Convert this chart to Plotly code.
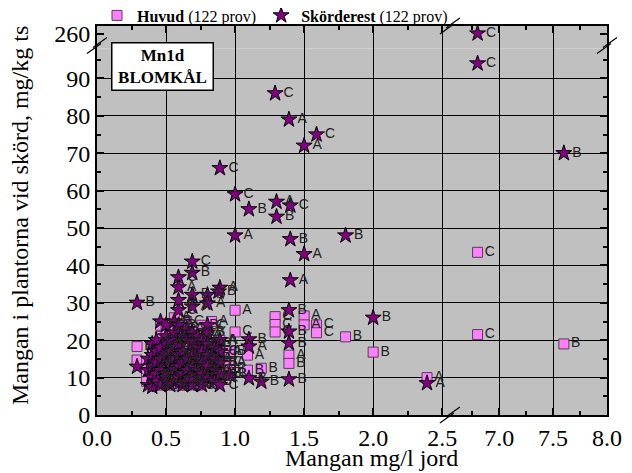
import plotly.graph_objects as go

# Skörderest - separate points
rest_x = [1.29, 1.39, 1.59, 1.50, 0.89, 1.00, 1.30, 1.40, 1.10, 1.30, 1.00, 1.40, 1.80, 1.50,
          0.69, 0.69, 1.40, 0.59, 0.59, 0.89, 0.88, 0.69, 0.80, 0.29, 0.80, 1.39, 2.00, 1.39,
          1.39, 1.39, 1.19, 1.10, 1.10, 1.10, 0.96, 0.29, 2.39, 6.80, 6.80, 7.60]
rest_y = [86, 79, 75, 72, 66, 59, 57, 56, 55, 53, 48, 47, 48, 43,
          41, 38, 36, 36.8, 34.1, 34, 33, 32.1, 32.1, 30, 29.8, 28, 26, 22.3,
          19.2, 9.5, 8.9, 9.8, 20.2, 18.3, 10.7, 12.9, 8.5, 260, 94, 70]
rest_lbl = list("CACACCACBBABBA" + "CBACAABBBBABBB" + "BBBBBABAACCB")

# Skörderest - the dense cluster, one column per x value
rest_cx = [0.37, 0.40, 0.43, 0.46, 0.50, 0.53, 0.56, 0.59, 0.62, 0.65, 0.69, 0.73, 0.76, 0.80, 0.85, 0.89]
rest_cy = [[8, 12, 15], [7.5, 10, 13, 16, 19], [9, 11, 14, 17, 20], [8, 12, 15, 18, 25],
           [9, 11, 16, 19, 21, 24], [8, 14, 17, 20], [9, 12, 15, 18, 22, 25],
           [10, 13, 16, 19, 24, 28, 30.7], [8, 11, 14, 17, 21], [9, 12, 15, 20, 23],
           [8, 10, 13, 16, 19, 22, 29], [12, 15, 18, 21], [8, 11, 14, 17, 20],
           [10, 13, 16, 19, 22, 24], [9, 12, 15, 18], [8, 11, 14, 17, 20]]
rest_cl = ["CAB", "ABCAB", "BCABC", "CABCA", "ABCABC", "BCAB", "CABCAB", "ABCABCA",
           "BCABC", "CABCA", "ABCABCA", "BCAB", "CABCA", "ABCABC", "BCAB", "CABCA"]

# Huvud - separate points
huvud_x = [0.29, 0.29, 1.00, 1.00, 1.29, 1.29, 1.29, 1.50, 1.50, 1.59, 1.59, 1.80, 2.00,
           1.39, 1.39, 1.19, 1.09, 1.09, 0.96, 2.39, 6.80, 6.80, 7.60, 0.80, 0.80]
huvud_y = [18.3, 14.7, 28, 22.2, 26.3, 24.2, 22.2, 26.5, 24.1, 24.1, 22, 20.9, 16.8,
           16, 13.8, 12.5, 16, 12, 12.3, 10, 43.5, 21.5, 19, 22.7, 18.7]
huvud_lbl = list("BAACCCCAACCBB" + "ABBABBACCBAB")

# Huvud - the dense cluster
huvud_cx = [0.36, 0.40, 0.43, 0.46, 0.50, 0.53, 0.56, 0.59, 0.62, 0.65, 0.69, 0.73, 0.76,
            0.80, 0.83, 0.85, 0.89, 0.93, 0.96]
huvud_cy = [[9, 11.6, 14], [8, 10, 12, 14, 17], [9, 11, 13, 16, 19], [8, 10, 12, 15, 18, 21, 24],
            [9, 11, 13, 16, 20, 23], [8, 10, 12, 14, 17, 22], [9, 11, 13, 15, 19, 24, 26],
            [8, 10, 12, 14, 17, 21], [9, 11, 13, 16, 18, 23], [8, 10, 12, 15, 20, 25],
            [9, 11, 14, 17, 21], [8, 10, 13, 16, 19, 22], [9, 12, 15, 18, 24],
            [10, 14], [25], [9, 12, 15, 19], [10, 13, 16, 20], [11, 14, 17], [14, 17]]
huvud_cl = ["ABC", "BCABC", "CABCA", "ABCABCA", "BCABCA", "CABCAB", "ABCABCA", "BCABCA",
            "CABCAB", "ABCABC", "BCABC", "CABCAB", "ABCAB", "BC", "A", "CABC", "ABCA", "BCA", "AB"]


def flatten(px, py, pl, cx, cy, cl):
    xs, ys, ls = list(px), list(py), list(pl)
    for x, col, lab in zip(cx, cy, cl):
        for y, l in zip(col, lab):
            xs.append(x)
            ys.append(y)
            ls.append(l)
    return xs, ys, ls


rest = flatten(rest_x, rest_y, rest_lbl, rest_cx, rest_cy, rest_cl)
huvud = flatten(huvud_x, huvud_y, huvud_lbl, huvud_cx, huvud_cy, huvud_cl)

# broken axes: two x pieces and two y pieces
x_left, x_right = [0, 2.6], [6.6, 8.0]
y_low, y_high = [0, 98], [256, 262]
xs_split = 359 / 510
ys_split = 366.5 / 389

panels = [("x", "y", x_left, y_low), ("x2", "y2", x_right, y_low),
          ("x3", "y3", x_left, y_high), ("x4", "y4", x_right, y_high)]

series = [("<b>Huvud</b> (122 prov)", huvud,
           dict(symbol="square", size=10, color="#FF80FF", line=dict(color="#5a3a5a", width=1))),
          ("<b>Skörderest</b> (122 prov)", rest,
           dict(symbol="star", size=12, color="#800080", line=dict(color="black", width=1)))]

fig = go.Figure()
for name, (sx, sy, sl), marker in series:
    for i, (xa, ya, xr, yr) in enumerate(panels):
        idx = [k for k in range(len(sx))
               if xr[0] <= sx[k] <= xr[1] and yr[0] <= sy[k] <= yr[1]]
        fig.add_trace(go.Scatter(
            x=[sx[k] for k in idx], y=[sy[k] for k in idx], text=[sl[k] for k in idx],
            mode="markers+text", textposition="middle right",
            textfont=dict(family="Liberation Sans", size=14, color="#222"),
            marker=marker, name=name, legendgroup=name, showlegend=(i == 0),
            cliponaxis=False, xaxis=xa, yaxis=ya))

tickfont = dict(family="Liberation Serif", size=24, color="black")
base = dict(showline=True, linecolor="black", linewidth=2, ticks="inside", ticklen=7,
            tickcolor="black", tickwidth=1.5, showgrid=True, gridcolor="black", gridwidth=1,
            zeroline=False, tickfont=tickfont, layer="above traces")
xminor = dict(dtick=0.25, ticks="inside", ticklen=4, tickcolor="black", showgrid=False)
yminor = dict(dtick=5, ticks="inside", ticklen=4, tickcolor="black", showgrid=False)

# the page body adds 8px on top/left, margins are set to make up for it
fig.update_layout(
    width=632, height=473,
    margin=dict(l=89, r=33, t=18, b=66, autoexpand=False),
    paper_bgcolor="white", plot_bgcolor="#C0C0C0",
    showlegend=True,
    legend=dict(orientation="h", x=0.0, y=1.027, yanchor="middle", xanchor="left",
                font=dict(family="Liberation Serif", size=16, color="black"),
                bgcolor="rgba(0,0,0,0)", itemclick=False),
    xaxis=dict(base, domain=[0, xs_split], range=x_left, dtick=0.5, tick0=0, tickformat=".1f",
               anchor="y", minor=xminor),
    xaxis2=dict(base, domain=[xs_split, 1], range=x_right, dtick=0.5, tick0=7, tickformat=".1f",
                anchor="y2", minor=xminor),
    xaxis3=dict(base, domain=[0, xs_split], range=x_left, dtick=0.5, tick0=0, side="top",
                showticklabels=False, anchor="y3", minor=xminor),
    xaxis4=dict(base, domain=[xs_split, 1], range=x_right, dtick=0.5, tick0=7, side="top",
                showticklabels=False, anchor="y4", minor=xminor),
    yaxis=dict(base, domain=[0, ys_split], range=y_low, dtick=10, anchor="x", minor=yminor),
    yaxis2=dict(base, domain=[0, ys_split], range=y_low, dtick=10, anchor="x2", side="right",
                showticklabels=False, minor=yminor),
    yaxis3=dict(base, domain=[ys_split, 1], range=y_high, tickvals=[260], anchor="x3",
                showgrid=False),
    yaxis4=dict(base, domain=[ys_split, 1], range=y_high, tickvals=[260], anchor="x4",
                side="right", showticklabels=False, showgrid=False),
)

# axis titles and the label box
fig.add_annotation(text="Mangan mg/l jord", xref="paper", yref="paper", x=0.539, y=-0.11,
                   xanchor="center", yanchor="middle", showarrow=False,
                   font=dict(family="Liberation Serif", size=24, color="black"))
fig.add_annotation(text="Mangan i plantorna vid skörd, mg/kg ts", xref="paper", yref="paper",
                   x=-0.151, y=0.514, textangle=-90, xanchor="center", yanchor="middle",
                   showarrow=False, font=dict(family="Liberation Serif", size=24, color="black"))
fig.add_annotation(text="<b>Mn1d</b><br><b>BLOMKÅL</b>", xref="paper", yref="paper",
                   x=0.128, y=0.896, xanchor="center", yanchor="middle", showarrow=False,
                   bgcolor="white", bordercolor="black", borderwidth=1.5, width=98, height=44,
                   font=dict(family="Liberation Serif", size=17, color="black"))

# break marks "//" on the axes
breaks = [(xs_split - 0.012, 0), (xs_split - 0.012, 1), (0, ys_split + 0.008), (1, ys_split + 0.008)]
for bx, by in breaks:
    for off in (-3, 3):
        fig.add_shape(type="line", xref="paper", yref="paper", xsizemode="pixel",
                      ysizemode="pixel", xanchor=bx, yanchor=by,
                      x0=-7 + off, x1=7 + off, y0=-5 + off, y1=5 + off,
                      line=dict(color="black", width=1.2))

fig.write_html("out.html")
